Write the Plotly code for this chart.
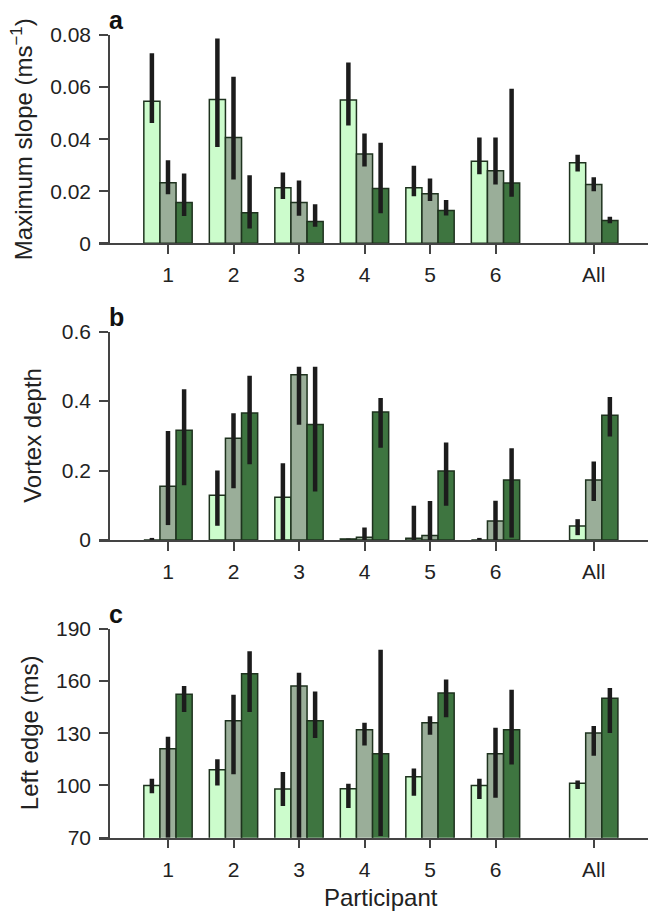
import plotly.graph_objects as go

# ---------------- data ----------------
categories = ["1", "2", "3", "4", "5", "6", "All"]
cat_pos = [1, 2, 3, 4, 5, 6, 7.5]

# Panel a: Maximum slope
a_light = [0.0546, 0.0552, 0.0213, 0.0550, 0.0213, 0.0315, 0.0309]
a_light_hi = [0.0730, 0.0787, 0.0272, 0.0694, 0.0298, 0.0406, 0.0340]
a_light_lo = [0.0462, 0.0370, 0.0170, 0.0452, 0.0181, 0.0265, 0.0276]
a_mid = [0.0233, 0.0406, 0.0157, 0.0343, 0.0190, 0.0279, 0.0226]
a_mid_hi = [0.0319, 0.0640, 0.0241, 0.0422, 0.0249, 0.0406, 0.0254]
a_mid_lo = [0.0188, 0.0245, 0.0106, 0.0295, 0.0162, 0.0226, 0.0200]
a_dark = [0.0157, 0.0117, 0.0084, 0.0210, 0.0126, 0.0232, 0.0088]
a_dark_hi = [0.0268, 0.0261, 0.0150, 0.0386, 0.0166, 0.0594, 0.0102]
a_dark_lo = [0.0105, 0.0057, 0.0064, 0.0115, 0.0107, 0.0179, 0.0077]

# Panel b: Vortex depth
b_light = [0.000, 0.129, 0.123, 0.003, 0.005, 0.000, 0.040]
b_light_hi = [0.006, 0.200, 0.221, 0.004, 0.099, 0.006, 0.060]
b_light_lo = [0.000, 0.041, 0.000, 0.002, 0.000, 0.000, 0.014]
b_mid = [0.155, 0.293, 0.476, 0.008, 0.013, 0.055, 0.173]
b_mid_hi = [0.314, 0.365, 0.499, 0.036, 0.112, 0.113, 0.226]
b_mid_lo = [0.043, 0.149, 0.332, 0.000, 0.000, 0.000, 0.112]
b_dark = [0.316, 0.366, 0.333, 0.369, 0.199, 0.173, 0.359]
b_dark_hi = [0.434, 0.473, 0.499, 0.409, 0.281, 0.264, 0.412]
b_dark_lo = [0.158, 0.218, 0.140, 0.266, 0.099, 0.007, 0.298]

# Panel c: Left edge (ms)
c_light = [100.0, 109.0, 97.9, 98.1, 105.0, 100.0, 101.2]
c_light_hi = [103.9, 115.0, 107.7, 101.0, 109.8, 103.9, 102.9]
c_light_lo = [95.5, 100.0, 88.2, 87.0, 94.1, 92.2, 97.9]
c_mid = [121.1, 137.2, 157.1, 132.0, 136.0, 118.2, 130.1]
c_mid_hi = [128.0, 152.1, 164.7, 136.0, 139.8, 133.1, 134.1]
c_mid_lo = [70.0, 106.4, 70.0, 123.0, 129.1, 93.0, 117.1]
c_dark = [152.3, 164.2, 137.2, 118.2, 153.1, 132.0, 150.0]
c_dark_hi = [157.1, 177.0, 154.0, 177.9, 160.9, 155.0, 155.9]
c_dark_lo = [142.2, 142.2, 127.2, 71.0, 139.1, 112.1, 130.1]

panels = [
    ("a", "Maximum slope (ms<sup>−1</sup>)", [0, 0.08], [0, 0.02, 0.04, 0.06, 0.08],
     ["0", "0.02", "0.04", "0.06", "0.08"],
     [(a_light, a_light_hi, a_light_lo), (a_mid, a_mid_hi, a_mid_lo), (a_dark, a_dark_hi, a_dark_lo)]),
    ("b", "Vortex depth", [0, 0.6], [0, 0.2, 0.4, 0.6], ["0", "0.2", "0.4", "0.6"],
     [(b_light, b_light_hi, b_light_lo), (b_mid, b_mid_hi, b_mid_lo), (b_dark, b_dark_hi, b_dark_lo)]),
    ("c", "Left edge (ms)", [70, 190], [70, 100, 130, 160, 190], ["70", "100", "130", "160", "190"],
     [(c_light, c_light_hi, c_light_lo), (c_mid, c_mid_hi, c_mid_lo), (c_dark, c_dark_hi, c_dark_lo)]),
]

# ---------------- style ----------------
PAGE_W, PAGE_H = 656, 916
OFF = 8  # default page body margin
W, H = PAGE_W - OFF, PAGE_H - OFF


def px_x(p):
    return (p - OFF) / W


def px_y(p):
    return 1 - (p - OFF) / H


colors = ["#ccfccc", "#9aae99", "#3e7540"]
edge = "#1e321e"
err_color = "#1c1c1c"
axis_color = "#444444"
font = "Liberation Sans, Arial, Helvetica, sans-serif"
bar_w = 0.246
offsets = [-1.5 * bar_w, -0.5 * bar_w, 0.5 * bar_w]

# pixel layout (top, bottom) of each panel in page pixels
panel_px = [(35, 243.3), (331.7, 540), (628.7, 837.7)]
x_left, x_right = 99, 655
x_dom = [px_x(x_left), px_x(x_right)]
x_range = [1 + (x_left - 168) / 65.5, 1 + (x_right - 168) / 65.5]
yaxis_pos = px_x(109)
title_x = [22, 33, 29]

fig = go.Figure()
layout = dict(
    template="none",
    width=W, height=H,
    margin=dict(l=0, r=0, t=0, b=0, pad=0, autoexpand=False),
    paper_bgcolor="white", plot_bgcolor="white",
    showlegend=False,
    font=dict(family=font, size=21, color="#222222"),
    annotations=[],
)

for i, (letter, ytitle, yr, tv, tt, series) in enumerate(panels):
    n = "" if i == 0 else str(i + 1)
    xa, ya = "x" + n, "y" + n
    for j, (vals, hi, lo) in enumerate(series):
        fig.add_trace(go.Bar(
            x=cat_pos, y=vals, xaxis=xa, yaxis=ya,
            width=bar_w, offset=offsets[j],
            marker=dict(color=colors[j], line=dict(color=edge, width=1.5)),
            error_y=dict(type="data", symmetric=False,
                         array=[h - v for h, v in zip(hi, vals)],
                         arrayminus=[v - l for v, l in zip(vals, lo)],
                         color=err_color, thickness=4.5, width=0),
        ))
    top, bot = panel_px[i]
    layout["xaxis" + n] = dict(
        domain=x_dom, range=x_range, anchor=ya, automargin=False,
        tickmode="array", tickvals=cat_pos, ticktext=categories,
        showline=True, linecolor=axis_color, linewidth=1.5,
        ticks="outside", ticklen=9, tickwidth=1.5, tickcolor=axis_color,
        ticklabelstandoff=3, showgrid=False, zeroline=False,
        tickfont=dict(size=21, family=font, color="#222222"),
    )
    layout["yaxis" + n] = dict(
        domain=[px_y(bot), px_y(top)], range=yr, anchor="free", position=yaxis_pos,
        automargin=False,
        tickmode="array", tickvals=tv, ticktext=tt,
        showline=True, linecolor=axis_color, linewidth=1.5,
        ticks="outside", ticklen=9, tickwidth=1.5, tickcolor=axis_color,
        ticklabelstandoff=4, showgrid=False, zeroline=False,
        tickfont=dict(size=21, family=font, color="#222222"),
    )
    layout["annotations"].append(dict(
        text=ytitle, textangle=-90, xref="paper", yref="paper",
        x=px_x(title_x[i]), y=px_y((top + bot) / 2), xanchor="center", yanchor="middle",
        showarrow=False, font=dict(size=24, family=font, color="#222222"),
    ))
    layout["annotations"].append(dict(
        text="<b>%s</b>" % letter, xref="paper", yref="paper",
        x=px_x(107), y=px_y(top - 15), xanchor="left", yanchor="middle",
        showarrow=False, font=dict(size=25, family=font, color="#111111"),
    ))

layout["annotations"].append(dict(
    text="Participant", xref="paper", yref="paper",
    x=px_x(381), y=px_y(897), xanchor="center", yanchor="middle",
    showarrow=False, font=dict(size=24, family=font, color="#222222"),
))

fig.update_layout(**layout)
fig.write_html("out.html")
